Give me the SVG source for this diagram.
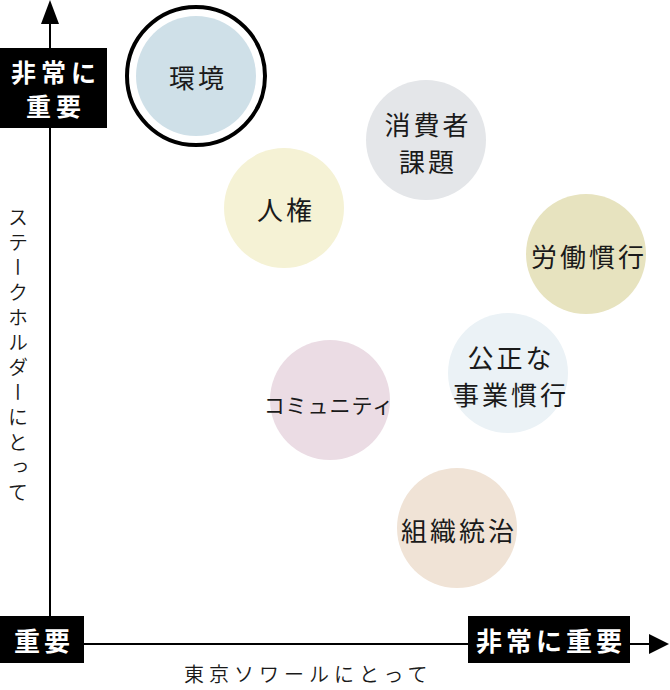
<svg xmlns="http://www.w3.org/2000/svg" width="670" height="690" viewBox="0 0 670 690">
<style>
.lbl{font-family:"Noto Sans CJK JP","Noto Sans CJK SC",sans-serif;font-size:26px;font-weight:400;fill:#1a1a1a;letter-spacing:3px;text-anchor:middle;dominant-baseline:central}
.small{font-size:21px;letter-spacing:1px}
.ax{font-family:"Noto Sans CJK JP","Noto Sans CJK SC",sans-serif;font-size:20px;font-weight:350;fill:#1a1a1a;letter-spacing:5px}
.box{fill:#000}
.bt{font-family:"Noto Sans CJK JP","Noto Sans CJK SC",sans-serif;font-size:26px;font-weight:700;fill:#fff;letter-spacing:4px;text-anchor:middle;dominant-baseline:central}
.bt2{font-size:25px;letter-spacing:5px}
.axis{stroke:#000;stroke-width:2;fill:none}
</style>
<rect width="670" height="690" fill="#fff"/>
<g id="connectors">
<line class="axis" x1="50" y1="640" x2="50" y2="20"/>
<path d="M50,0 L59,24 L41,24 z" fill="#000"/>
<line class="axis" x1="50" y1="644" x2="650" y2="644"/>
<path d="M669,644 L649,634 L649,654 z" fill="#000"/>
</g>
<g id="label-y-top">
<rect class="box" x="0" y="48" width="107" height="80"/>
<text class="bt bt2" x="56" y="71">非常に</text>
<text class="bt bt2" x="56" y="105">重要</text>
</g>
<g id="label-origin">
<rect class="box" x="0" y="616" width="84" height="47"/>
<text class="bt" x="44" y="639">重要</text>
</g>
<g id="label-x-right">
<rect class="box" x="468" y="616" width="162" height="47"/>
<text class="bt" x="551" y="639">非常に重要</text>
</g>
<g id="axis-x-title">
<text class="ax" x="184" y="682">東京ソワールにとって</text>
</g>
<g id="axis-y-title">
<text class="ax" x="18" y="207" style="writing-mode:vertical-rl">ステークホルダーにとって</text>
</g>
<g id="node-kankyo">
<circle cx="196" cy="76" r="69" fill="none" stroke="#000" stroke-width="4"/>
<circle cx="196" cy="76" r="60" fill="#cfe0e8"/>
<text class="lbl" x="198" y="76">環境</text>
</g>
<g id="node-shohisha">
<circle cx="426" cy="140" r="60" fill="#e4e6e9"/>
<text class="lbl" x="428" y="123">消費者</text>
<text class="lbl" x="428" y="160">課題</text>
</g>
<g id="node-jinken">
<circle cx="284" cy="208" r="60" fill="#f5f2d5"/>
<text class="lbl" x="286" y="208">人権</text>
</g>
<g id="node-rodo">
<circle cx="586" cy="254" r="60" fill="#e7e3bf"/>
<text class="lbl" x="589" y="255">労働慣行</text>
</g>
<g id="node-kosei">
<circle cx="508" cy="373" r="60" fill="#ebf2f6"/>
<text class="lbl" x="511" y="356">公正な</text>
<text class="lbl" x="511" y="393">事業慣行</text>
</g>
<g id="node-community">
<circle cx="330" cy="400" r="60" fill="#ebdce4"/>
<text class="lbl small" x="329" y="404">コミュニティ</text>
</g>
<g id="node-soshiki">
<circle cx="457" cy="528" r="60" fill="#f0e3d6"/>
<text class="lbl" x="459" y="529">組織統治</text>
</g>
</svg>
